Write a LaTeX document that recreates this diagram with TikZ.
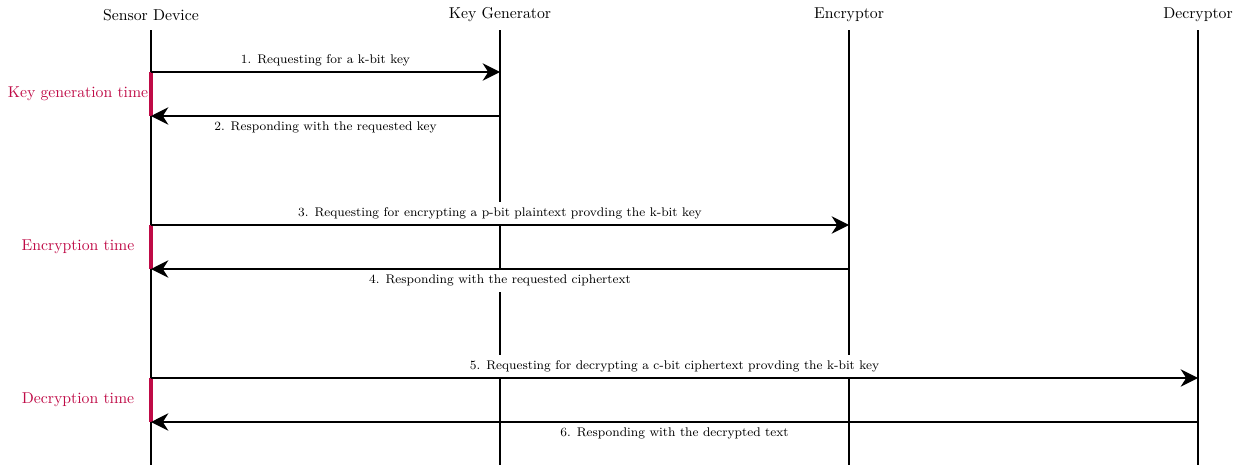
\documentclass[tikz,border=0pt]{standalone}
\usetikzlibrary{arrows.meta}
\definecolor{timecol}{RGB}{191,10,70}
\begin{document}
\begin{tikzpicture}[x=0.635pt,y=-0.635pt,
  actor/.style={font=\normalsize},
  lifeline/.style={very thick},
  msg/.style={very thick,-{Stealth[length=11pt,width=11pt,inset=3.5pt]}},
  msglabel/.style={font=\footnotesize,fill=white},
  timebar/.style={timecol,line width=2pt},
  timelabel/.style={timecol,font=\normalsize}]
\useasboundingbox (0,0) rectangle (1245,465);

% participants
\node[actor] (sd)  at (151,15)  {Sensor Device};
\node[actor] (kg)  at (500,15)  {Key Generator};
\node[actor] (enc) at (849,15)  {Encryptor};
\node[actor] (dec) at (1198,15) {Decryptor};

% lifelines
\foreach \p/\x in {sd/151,kg/500,enc/849,dec/1198}{
  \coordinate (\p top) at (\x,30);
  \coordinate (\p bot) at (\x,465);
  \draw[lifeline] (\p top) -- (\p bot);
}

% message end points
\coordinate (sdA) at (151,72);   \coordinate (kgA) at (500,72);
\coordinate (sdB) at (151,116);  \coordinate (kgB) at (500,116);
\coordinate (sdC) at (151,225);  \coordinate (encC) at (849,225);
\coordinate (sdD) at (151,269);  \coordinate (encD) at (849,269);
\coordinate (sdE) at (151,378);  \coordinate (decE) at (1198,378);
\coordinate (sdF) at (151,422);  \coordinate (decF) at (1198,422);

% timing bars on the sensor lifeline
\draw[timebar] (sdA) -- (sdB);
\draw[timebar] (sdC) -- (sdD);
\draw[timebar] (sdE) -- (sdF);
\node[timelabel] (t1) at (78,94)  {Key generation time};
\node[timelabel] (t2) at (78,247) {Encryption time};
\node[timelabel] (t3) at (78,400) {Decryption time};

% messages
\draw[msg] (sdA) -- node[msglabel,above] (m1) {1. Requesting for a k-bit key} (kgA);
\draw[msg] (kgB) -- node[msglabel,below] (m2) {2. Responding with the requested key} (sdB);
\draw[msg] (sdC) -- node[msglabel,above] (m3) {3. Requesting for encrypting a p-bit plaintext provding the k-bit key} (encC);
\draw[msg] (encD) -- node[msglabel,below] (m4) {4. Responding with the requested ciphertext} (sdD);
\draw[msg] (sdE) -- node[msglabel,above] (m5) {5. Requesting for decrypting a c-bit ciphertext provding the k-bit key} (decE);
\draw[msg] (decF) -- node[msglabel,below] (m6) {6. Responding with the decrypted text} (sdF);
\end{tikzpicture}
\end{document}
